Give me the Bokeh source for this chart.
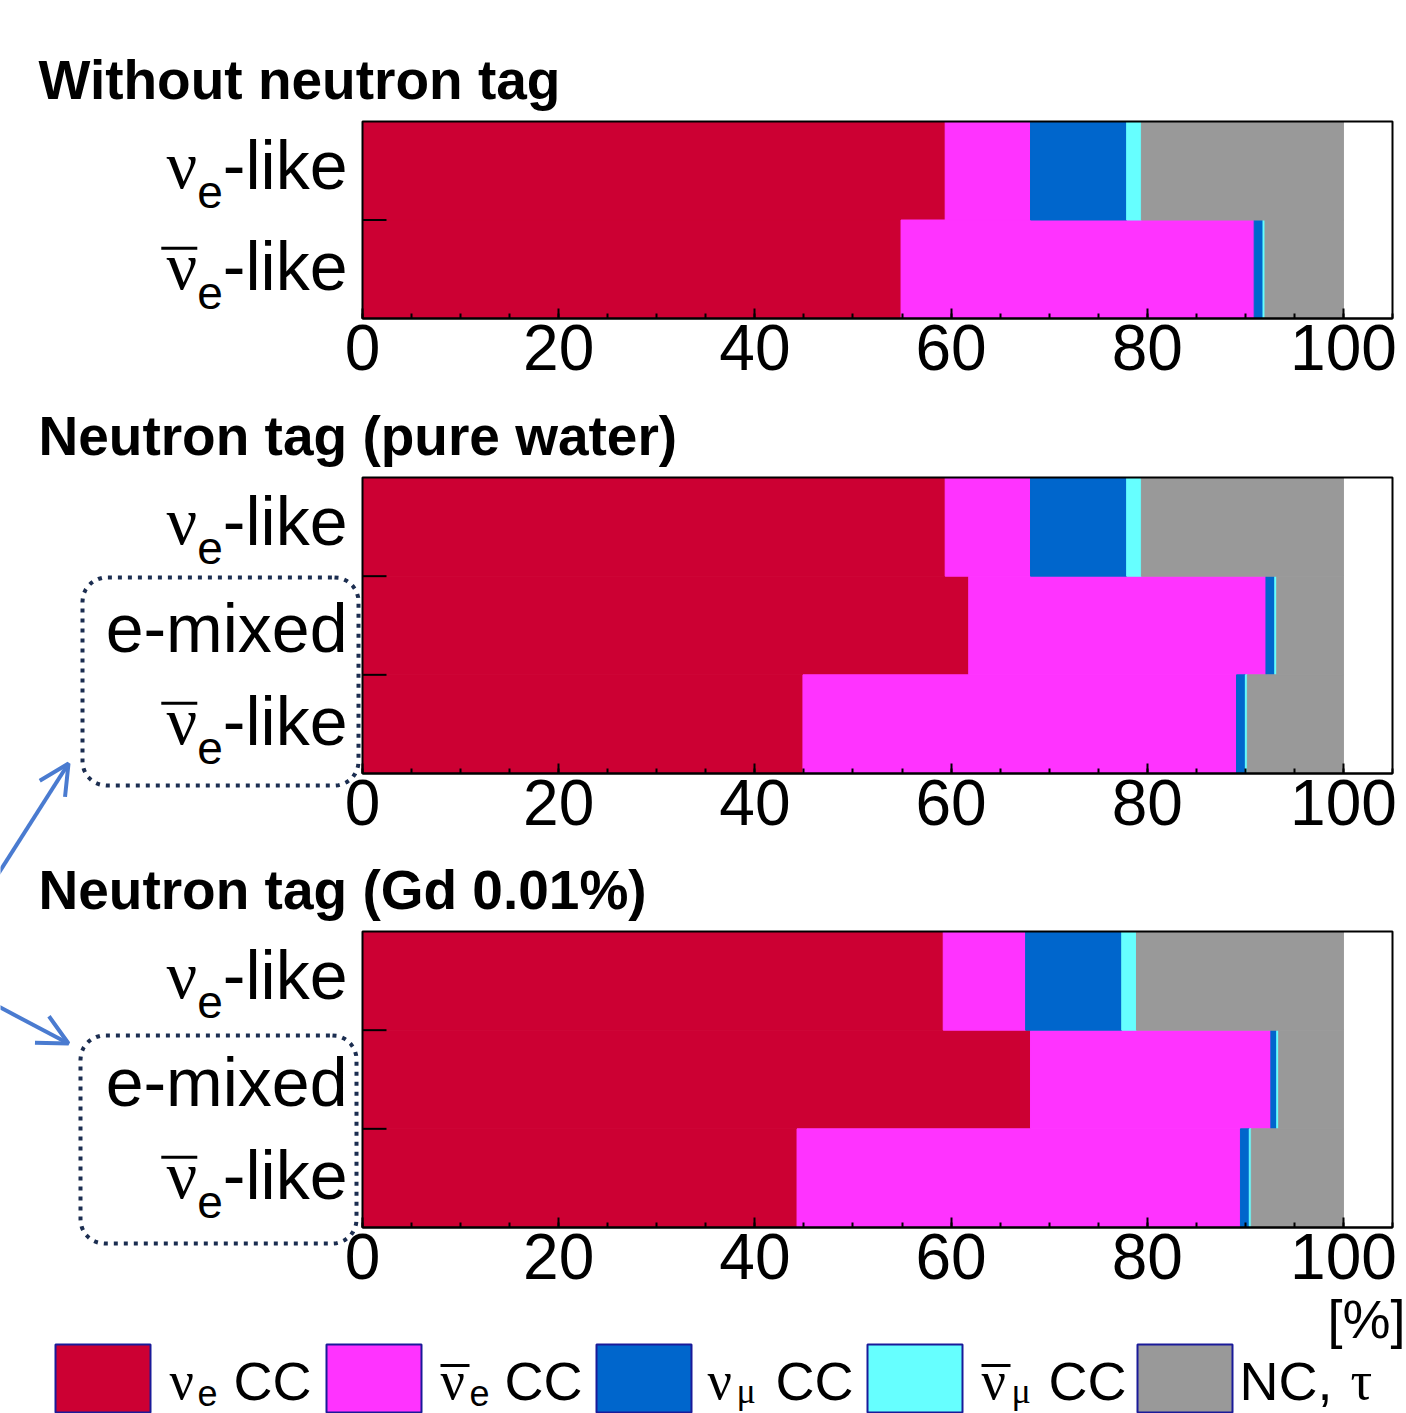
import numpy as np
from bokeh.plotting import figure
from bokeh.models import (Range1d, LinearAxis, SingleIntervalTicker,
                          ColumnDataSource, Label, Arrow, OpenHead)
from bokeh.embed import file_html
from bokeh.resources import INLINE

# ---------------- data ----------------
components = ["nue_cc", "nuebar_cc", "numu_cc", "numubar_cc", "nc_tau"]
colors = ["#cc0033", "#ff33ff", "#0066cc", "#66ffff", "#999999"]

panel_titles = ["Without neutron tag", "Neutron tag (pure water)", "Neutron tag (Gd 0.01%)"]

p1_samples = ["nue_like", "nuebar_like"]
p1_nue_cc = [59.4, 54.9]
p1_nuebar_cc = [8.7, 36.0]
p1_numu_cc = [9.8, 0.9]
p1_numubar_cc = [1.5, 0.2]
p1_nc_tau = [20.6, 8.0]

p2_samples = ["nue_like", "e_mixed", "nuebar_like"]
p2_nue_cc = [59.4, 61.8, 44.9]
p2_nuebar_cc = [8.7, 30.3, 44.2]
p2_numu_cc = [9.8, 0.9, 0.9]
p2_numubar_cc = [1.5, 0.2, 0.2]
p2_nc_tau = [20.6, 6.8, 9.8]

p3_samples = ["nue_like", "e_mixed", "nuebar_like"]
p3_nue_cc = [59.2, 68.1, 44.3]
p3_nuebar_cc = [8.4, 24.5, 45.2]
p3_numu_cc = [9.8, 0.6, 0.9]
p3_numubar_cc = [1.5, 0.2, 0.2]
p3_nc_tau = [21.1, 6.6, 9.4]

x_tick_interval = 20
x_max = 105

panels = [
    (p1_samples, [p1_nue_cc, p1_nuebar_cc, p1_numu_cc, p1_numubar_cc, p1_nc_tau]),
    (p2_samples, [p2_nue_cc, p2_nuebar_cc, p2_numu_cc, p2_numubar_cc, p2_nc_tau]),
    (p3_samples, [p3_nue_cc, p3_nuebar_cc, p3_numu_cc, p3_numubar_cc, p3_nc_tau]),
]

# ---------------- page layout (pixels) ----------------
W, H = 1406, 1413
FRAME_L, FRAME_W = 362, 1030
frame_top = [121, 477, 931]
frame_h = [197, 296, 296]
PPU = FRAME_W / x_max

SANS = "Liberation Sans"
SERIF = "Liberation Serif"
BOX_COLOR = "#1b2d50"
ARROW_COLOR = "#4a7bd0"
BASE_K = 0.36   # baseline correction (fraction of font size)

p = figure(width=W, height=H, x_range=Range1d(0, W), y_range=Range1d(H, 0),
           x_axis_type=None, y_axis_type=None,
           output_backend="svg", toolbar_location=None,
           min_border=0, min_border_left=0, min_border_right=0,
           min_border_top=0, min_border_bottom=0)
p.outline_line_color = None
p.background_fill_color = "white"
p.border_fill_color = "white"
p.extra_x_ranges = {"pct": Range1d(-FRAME_L / PPU, (W - FRAME_L) / PPU)}


def txt(x, base, text, size, font=SANS, align="left", style="normal"):
    p.add_layout(Label(x=x, y=base - BASE_K * size, text=text, text_font=font,
                       text_font_size=f"{size}px", text_align=align,
                       text_baseline="alphabetic", text_font_style=style,
                       text_color="black"))


def overbar(x0, x1, y, width=3):
    p.segment(x0=[x0], x1=[x1], y0=[y], y1=[y], line_color="black", line_width=width)


def rounded_rect(L, R, T, B, r, npts=10):
    xs, ys = [], []
    for ccx, ccy, a0, a1 in [(R - r, T + r, -90, 0), (R - r, B - r, 0, 90),
                             (L + r, B - r, 90, 180), (L + r, T + r, 180, 270)]:
        a = np.radians(np.linspace(a0, a1, npts))
        xs.extend((ccx + r * np.cos(a)).tolist())
        ys.extend((ccy + r * np.sin(a)).tolist())
    xs.append(xs[0]); ys.append(ys[0])
    return xs, ys


def row_label(kind, center):
    R = 347
    big, sub = 68, 46
    if kind == "e_mixed":
        txt(R, center + 27, "e-mixed", big, align="right")
        return
    base = center + (19 if kind == "nue_like" else 21)
    like_w = 1.833 * big
    sub_w = 0.556 * sub
    txt(R, base, "-like", big, align="right")
    txt(R - like_w, base + 19, "e", sub, align="right")
    nu_r = R - like_w - sub_w
    txt(nu_r, base, "ν", big, font=SERIF, align="right")
    if kind == "nuebar_like":
        overbar(nu_r - 36, nu_r, base - 42)


for k, (samples, vals) in enumerate(panels):
    n = len(samples)
    rowpx = frame_h[k] / n
    rname = f"p{k}"
    # row-unit range: row 0 at the top of this panel's frame
    p.extra_y_ranges[rname] = Range1d((H - frame_top[k]) / rowpx, -frame_top[k] / rowpx)

    data = dict(y=[i + 0.5 for i in range(n)])
    for name, v in zip(components, vals):
        data[name] = v
    src = ColumnDataSource(data)
    p.hbar_stack(components, y="y", height=1.0, fill_color=colors, line_color=colors,
                 line_width=1, source=src, x_range_name="pct", y_range_name=rname)

    # frame box
    p.quad(left=[0], right=[x_max], top=[0], bottom=[n], fill_color=None,
           line_color="black", line_width=2, x_range_name="pct", y_range_name=rname)
    # inward ticks on the left edge at the row boundaries
    bounds = list(range(1, n))
    p.segment(x0=[0] * len(bounds), x1=[24 / PPU] * len(bounds), y0=bounds, y1=bounds,
              line_color="black", line_width=2, x_range_name="pct", y_range_name=rname)

    xax = LinearAxis(x_range_name="pct", y_range_name=rname, fixed_location=n,
                     bounds=(0, x_max),
                     ticker=SingleIntervalTicker(interval=x_tick_interval, num_minor_ticks=4))
    xax.major_tick_in = 10
    xax.major_tick_out = 0
    xax.minor_tick_in = 5
    xax.minor_tick_out = 0
    xax.axis_line_width = 2
    xax.axis_line_color = "black"
    xax.major_tick_line_width = 2
    xax.minor_tick_line_width = 2
    xax.major_tick_line_color = "black"
    xax.minor_tick_line_color = "black"
    xax.major_label_text_font = SANS
    xax.major_label_text_font_size = "64px"
    xax.major_label_text_color = "black"
    xax.major_label_standoff = 6
    p.add_layout(xax, "below")

    # title and row labels
    txt(38, frame_top[k] - 22, panel_titles[k], 55, style="bold")
    for i, s in enumerate(samples):
        row_label(s, frame_top[k] + (i + 0.5) * rowpx)

# dotted boxes around the sample labels
for (L, R, T, B) in [(82, 358, 577, 785), (80, 356, 1035, 1243)]:
    xs, ys = rounded_rect(L, R, T, B, 24)
    p.line(xs, ys, line_color=BOX_COLOR, line_width=4, line_dash="4 6")

# arrows
for tail, tip in [((-4.0, 876.0), (68.0, 763.0)), ((-4.0, 1005.0), (68.0, 1043.0))]:
    p.add_layout(Arrow(x_start=tail[0], y_start=tail[1], x_end=tip[0], y_end=tip[1],
                       line_color=ARROW_COLOR, line_width=4,
                       end=OpenHead(size=30, line_color=ARROW_COLOR, line_width=4)))

# ---------------- unit label & legend ----------------
txt(1405, 1338, "[%]", 54, align="right")

swatch_left = [55, 326, 596, 867, 1137]
SW_W, SW_T, SW_B = 95, 1344, 1412
p.quad(left=swatch_left, right=[x + SW_W for x in swatch_left],
       top=[SW_T] * 5, bottom=[SW_B] * 5,
       fill_color=colors, line_color="#1a1a99", line_width=2)

LB = 1400
LS, LSUB = 54, 36
SUB_B = 1405
txt(169, LB, "ν", LS, font=SERIF)
txt(197, SUB_B, "e", LSUB)
txt(233, LB, "CC", LS)

txt(440, LB, "ν", LS, font=SERIF)
overbar(440, 469, 1365)
txt(469, SUB_B, "e", LSUB)
txt(504, LB, "CC", LS)

txt(707, LB, "ν", LS, font=SERIF)
txt(736, SUB_B - 2, "μ", LSUB, font=SERIF)
txt(775, LB, "CC", LS)

txt(981, LB, "ν", LS, font=SERIF)
overbar(981, 1010, 1365)
txt(1011, SUB_B - 2, "μ", LSUB, font=SERIF)
txt(1048, LB, "CC", LS)

txt(1239, LB, "NC,", LS)
txt(1350, LB, "τ", LS, font=SERIF)

open("out.html", "w").write(file_html(p, INLINE))
